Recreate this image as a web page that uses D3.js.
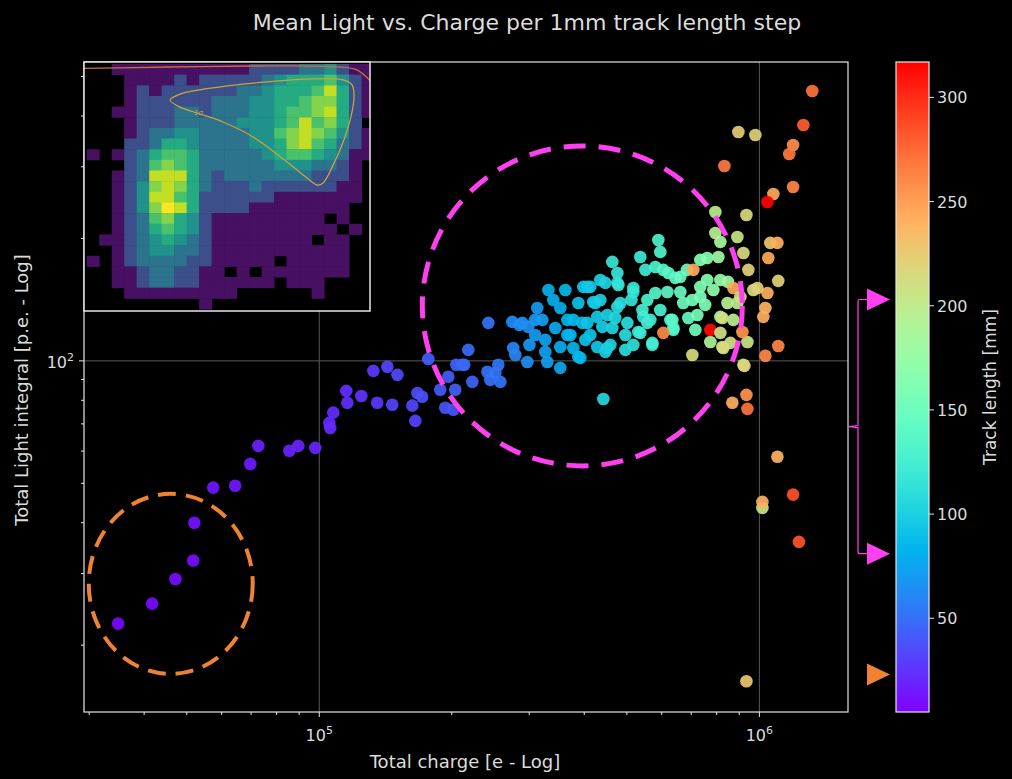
<!DOCTYPE html>
<html>
<head>
<meta charset="utf-8">
<script src="https://cdn.jsdelivr.net/npm/d3@7"></script>
<style>
  body { margin: 0; background: #000; }
  svg { display: block; font-family: "DejaVu Sans", sans-serif; }
</style>
</head>
<body>
<svg id="chart" width="1012" height="779"></svg>
<script>
// ---- data ----
const charge = [
  34900, 41700, 47100, 51700, 52000, 57400, 64400, 69700, 72700, 85500,
  89600, 97900, 105900, 105400, 107600, 115800, 115200, 124600, 132700, 135400,
  142800, 150500, 146500, 162700, 165300, 167100, 171300, 176900, 188300, 193300,
  201600, 196400, 203700, 211300, 218100, 222700, 242200, 241000, 244700, 255200,
  257900, 251200, 274500, 289300, 298500, 275900, 278900, 297000, 312900, 321200,
  326300, 326300, 329700, 352900, 343800, 352900, 352900, 366100, 377700, 391900,
  387800, 406500, 396000, 424000, 428200, 451400, 428200, 458600, 463300, 483300,
  501200, 517200, 530800, 571200, 517200, 544900, 637600, 627700, 442100,
  284800, 204800, 213500, 366100, 377700, 398100, 412800, 419300, 435100, 446700,
  463300, 475700, 475700, 439800, 387800, 451400, 475700, 406500, 478200, 536300,
  550800, 589500, 595500, 580300, 605000, 621200, 644200, 661300, 684800, 734100,
  761100, 794300, 815400, 807000, 891300, 919800, 944000, 969000, 815400, 848700,
  761100, 734100, 786100, 846400, 891300, 815400, 872700, 939300, 773700, 828200,
  859500, 704200, 919800, 637600, 634300, 689600, 722800, 671400, 704200, 734100,
  661300, 618000, 580300, 556500, 542300, 556500, 536300, 571200, 470400, 517200,
  512000, 446700, 331600, 300300, 309300, 412800, 496000, 595500, 715300, 753000,
  340200, 362300, 372000, 309300, 402300, 496000, 565300, 435100,
  605000, 707900, 872700, 915000, 773700,
  896000, 979200, 1259000, 1193000, 1169000, 832700, 1193000, 1076000, 1043000, 794300,
  934500, 1059000, 1099000, 1048000, 1104000, 1043000, 989700, 905400, 1032000, 1021000,
  823800, 815400, 823800, 924600, 1032000, 1104000, 868200, 934500, 939300, 1099000,
  1193000, 1016000, 1016000, 1230000, 934500, 1319000
];
const light = [
  22.6, 25.3, 29.1, 32.3, 40.0, 48.8, 49.3, 55.8, 61.8, 60.1,
  61.8, 61.1, 68.4, 70.4, 74.6, 78.9, 84.4, 82.0, 94.5, 78.9,
  96.7, 92.4, 78.0, 77.6, 71.2, 83.4, 81.6, 101.1, 84.9, 76.7,
  75.8, 91.4, 84.9, 97.8, 106.4, 88.8, 124.0, 94.0, 89.8, 97.8,
  88.8, 93.4, 124.7, 124.0, 121.2, 107.6, 103.4, 99.4, 134.9, 126.1,
  112.6, 105.2, 99.4, 134.9, 120.5, 108.2, 96.1, 126.1, 107.6, 101.7,
  138.8, 152.0, 124.0, 138.8, 128.3, 129.7, 108.2, 109.5, 120.5, 138.8,
  124.0, 109.5, 117.8, 109.5, 147.7, 128.3, 120.5, 126.1, 80.6,
  122.6, 97.8, 97.8, 115.8, 126.1, 152.0, 152.0, 139.6, 158.1, 155.5,
  175.1, 164.5, 155.5, 121.2, 102.3, 107.6, 135.7, 124.0, 153.7, 180.1,
  167.4, 198.3, 185.3, 170.2, 167.4, 164.5, 160.0, 160.9, 167.4, 177.1,
  179.1, 206.3, 196.1, 180.1, 201.7, 184.2, 167.4, 149.4, 158.1, 156.4,
  158.1, 152.0, 149.4, 138.8, 138.8, 128.3, 126.1, 111.3, 111.3, 107.6,
  110.7, 103.4, 97.8, 119.2, 126.1, 127.5, 129.7, 138.8, 141.2, 143.6,
  147.7, 147.7, 146.9, 141.2, 133.4, 124.0, 117.2, 110.7, 127.5, 151.1,
  141.2, 105.2, 149.4, 109.5, 115.8, 115.8, 115.8, 133.4, 119.2, 137.3,
  141.2, 149.4, 115.8, 126.1, 112.6, 106.4, 126.1, 141.2,
  117.2, 167.4, 151.1, 117.8, 119.2,
  365.3, 359.2, 380.1, 339.5, 322.6, 301.3, 267.6, 257.2, 245.8, 232.3,
  228.4, 195.0, 195.0, 179.1, 157.3, 146.9, 151.1, 143.6, 134.9, 128.3,
  127.5, 117.2, 108.2, 97.2, 102.9, 108.8, 78.9, 82.5, 76.2, 58.1,
  46.9, 43.5, 45.0, 35.9, 16.3, 460.7
];
const trackLength = [
  8, 9, 10, 11, 12, 14, 14, 16, 17, 18,
  19, 19, 21, 21, 22, 24, 24, 25, 27, 26,
  33, 34, 32, 33, 32, 35, 36, 42, 40, 38,
  39, 42, 43, 46, 48, 45, 52, 50, 50, 53,
  52, 52, 62, 63, 64, 60, 60, 63, 70, 72,
  74, 74, 72, 80, 78, 78, 76, 82, 84, 85,
  90, 95, 88, 95, 96, 100, 94, 100, 103, 110,
  110, 112, 116, 120, 115, 115, 128, 130, 105,
  63, 45, 47, 83, 86, 92, 95, 95, 100, 102,
  118, 118, 112, 98, 85, 100, 108, 92, 115, 120,
  122, 130, 132, 130, 135, 138, 140, 145, 150, 160,
  165, 195, 185, 180, 205, 215, 222, 215, 175, 180,
  165, 160, 170, 195, 200, 180, 200, 205, 190, 205,
  210, 215, 210, 135, 140, 145, 155, 148, 152, 158,
  145, 140, 135, 130, 125, 125, 120, 125, 105, 118,
  115, 98, 80, 68, 70, 92, 108, 128, 150, 160,
  80, 85, 84, 70, 90, 108, 122, 100,
  260, 245, 245, 255, 313,
  225, 220, 280, 258, 268, 268, 262, 245, 317, 198,
  215, 228, 240, 245, 222, 242, 222, 210, 240, 242,
  212, 210, 215, 218, 260, 262, 242, 255, 270, 240,
  285, 205, 242, 285, 228, 270
];

const xMajorTicks = [1e5, 1e6];
const xMinorTicks = [3e4, 4e4, 5e4, 6e4, 7e4, 8e4, 9e4, 2e5, 3e5, 4e5, 5e5, 6e5, 7e5, 8e5, 9e5];
const yMajorTicks = [100];
const yMinorTicks = [20, 30, 40, 50, 60, 70, 80, 90, 200, 300, 400, 500];
const colorbarTicks = [50, 100, 150, 200, 250, 300];

// 2D histogram shown in the inset (0 = empty bin, 1..9 = density level)
const insetHist = [
  "00111111111112222334211",
  "00011112122222345556421",
  "00012122222233455568521",
  "00012222223334455677521",
  "00112223323334456678521",
  "00012223333344456867520",
  "00012334433334467876421",
  "00022355433334457865321",
  "10123566533333456654311",
  "00023676533333344433210",
  "00123888532333333322210",
  "00124787532223222222110",
  "00124886522222211111110",
  "00124798522221111111100",
  "00123675421111111110100",
  "00123565421111111111010",
  "01123454321111111101100",
  "00123443321111111111100",
  "10123333221111101111100",
  "00112332211010111111100",
  "00112332211111101110000",
  "00011111111100000010000",
  "00000000010000000000000"
];
// contours in inset fractions [u, v]
const sigma1Contour = [
  [0.301, 0.153], [0.336, 0.129], [0.476, 0.100], [0.640, 0.080], [0.801, 0.068],
  [0.906, 0.072], [0.937, 0.092], [0.944, 0.133], [0.937, 0.201], [0.906, 0.321],
  [0.871, 0.414], [0.836, 0.486], [0.815, 0.494], [0.780, 0.466], [0.710, 0.402],
  [0.591, 0.301], [0.486, 0.241], [0.406, 0.209], [0.336, 0.181]
];
const sigma2Contour = [[0.0, 0.026], [0.3, 0.02], [0.6, 0.016], [0.85, 0.018], [0.95, 0.03], [1.0, 0.075]];

// highlight circles (centre in data units)
const circleCharge = [396000, 45970];
const circleLight = [136.5, 28.3];
// colorbar markers (track length)
const markerValues = [203, 81, 23];
const bracketMid = 142;

// ---- layout ----
const svg = d3.select("#chart");
const W = 1012, H = 779;
const plot = { left: 84, right: 848, top: 62, bottom: 712 };
const textColor = "#dcdcdc";
const magenta = "#ff3ff0";
const orange = "#f08233";

svg.append("rect").attr("width", W).attr("height", H).attr("fill", "#000");

const x = d3.scaleLog().domain([29200, 1.59e6]).range([plot.left, plot.right]);
const y = d3.scaleLog().domain([13.7, 543]).range([plot.bottom, plot.top]);
const cScale = d3.scaleLinear().domain([5, 317]).range([712, 62]);

// matplotlib "rainbow"
function rainbow(t) {
  t = Math.max(0, Math.min(1, t));
  const r = Math.min(1, Math.abs(2 * t - 0.5));
  const g = Math.sin(Math.PI * t);
  const b = Math.cos(Math.PI * t / 2);
  return d3.rgb(r * 255, g * 255, Math.max(0, b) * 255).formatHex();
}
const colorOf = v => rainbow((v - 5) / (317 - 5));

// title
svg.append("text")
  .attr("x", 527).attr("y", 30)
  .attr("text-anchor", "middle")
  .attr("fill", textColor)
  .style("font-size", "22px")
  .text("Mean Light vs. Charge per 1mm track length step");

// grid
const grid = svg.append("g").attr("stroke", "#5a5a5a").attr("stroke-width", 1);
grid.selectAll(".gx").data(xMajorTicks).join("line")
  .attr("x1", d => x(d)).attr("x2", d => x(d))
  .attr("y1", plot.top).attr("y2", plot.bottom);
grid.selectAll(".gy").data(yMajorTicks).join("line")
  .attr("x1", plot.left).attr("x2", plot.right)
  .attr("y1", d => y(d)).attr("y2", d => y(d));

// scatter points
const pts = d3.range(charge.length).map(i => ({ c: charge[i], l: light[i], t: trackLength[i] }));
svg.append("g").selectAll("circle").data(pts).join("circle")
  .attr("cx", d => x(d.c))
  .attr("cy", d => y(d.l))
  .attr("r", 6.3)
  .attr("fill", d => colorOf(d.t))
  .attr("fill-opacity", 0.92);

// dashed highlight circles
svg.append("ellipse")
  .attr("cx", x(circleCharge[0])).attr("cy", y(circleLight[0]))
  .attr("rx", 160).attr("ry", 160)
  .attr("fill", "none").attr("stroke", magenta)
  .attr("stroke-width", 5).attr("stroke-dasharray", "22,13");
svg.append("ellipse")
  .attr("cx", x(circleCharge[1])).attr("cy", y(circleLight[1]))
  .attr("rx", 82).attr("ry", 90)
  .attr("fill", "none").attr("stroke", orange)
  .attr("stroke-width", 4).attr("stroke-dasharray", "18,10");

// spines
svg.append("rect")
  .attr("x", plot.left).attr("y", plot.top)
  .attr("width", plot.right - plot.left).attr("height", plot.bottom - plot.top)
  .attr("fill", "none").attr("stroke", "#e6e6e6").attr("stroke-width", 1.2);

// ticks
const ticks = svg.append("g").attr("stroke", "#e6e6e6").attr("stroke-width", 1);
ticks.selectAll(".xM").data(xMajorTicks).join("line")
  .attr("x1", d => x(d)).attr("x2", d => x(d))
  .attr("y1", plot.bottom).attr("y2", plot.bottom + 5);
ticks.selectAll(".xm").data(xMinorTicks).join("line")
  .attr("x1", d => x(d)).attr("x2", d => x(d))
  .attr("y1", plot.bottom).attr("y2", plot.bottom + 3);
ticks.selectAll(".yM").data(yMajorTicks).join("line")
  .attr("x1", plot.left - 5).attr("x2", plot.left)
  .attr("y1", d => y(d)).attr("y2", d => y(d));
ticks.selectAll(".ym").data(yMinorTicks).join("line")
  .attr("x1", plot.left - 3).attr("x2", plot.left)
  .attr("y1", d => y(d)).attr("y2", d => y(d));

// tick labels (10^n)
function powLabel(sel, v) {
  const e = Math.round(Math.log10(v));
  sel.append("tspan").text("10");
  sel.append("tspan").attr("dy", -7).style("font-size", "11px").text(e);
}
xMajorTicks.forEach(v => {
  const t = svg.append("text")
    .attr("x", x(v)).attr("y", 741)
    .attr("text-anchor", "middle").attr("fill", textColor)
    .style("font-size", "16px");
  powLabel(t, v);
});
yMajorTicks.forEach(v => {
  const t = svg.append("text")
    .attr("x", plot.left - 10).attr("y", y(v) + 7)
    .attr("text-anchor", "end").attr("fill", textColor)
    .style("font-size", "16px");
  powLabel(t, v);
});

// axis labels
svg.append("text")
  .attr("x", 465).attr("y", 768)
  .attr("text-anchor", "middle").attr("fill", textColor)
  .style("font-size", "18px")
  .text("Total charge [e - Log]");
svg.append("text")
  .attr("transform", `translate(28,390) rotate(-90)`)
  .attr("text-anchor", "middle").attr("fill", textColor)
  .style("font-size", "18px")
  .text("Total Light integral [p.e. - Log]");

// ---- inset with 2D histogram ----
const inset = { left: 84, right: 370, top: 62, bottom: 311 };
const defs = svg.append("defs");
defs.append("clipPath").attr("id", "insetClip")
  .append("rect")
  .attr("x", inset.left).attr("y", inset.top)
  .attr("width", inset.right - inset.left).attr("height", inset.bottom - inset.top);

const ig = svg.append("g").attr("clip-path", "url(#insetClip)");
ig.append("rect")
  .attr("x", inset.left).attr("y", inset.top)
  .attr("width", inset.right - inset.left).attr("height", inset.bottom - inset.top)
  .attr("fill", "#000");

const hx = d3.scaleBand().domain(d3.range(23)).range([86.7, 374]).padding(0);
const hy = d3.scaleBand().domain(d3.range(23)).range([64, 309]).padding(0);
const cells = [];
insetHist.forEach((row, r) => row.split("").forEach((ch, c) => {
  const v = +ch;
  if (v > 0) cells.push({ r, c, v });
}));
ig.selectAll(".cell").data(cells).join("rect")
  .attr("x", d => hx(d.c)).attr("y", d => hy(d.r))
  .attr("width", hx.bandwidth() + 0.5).attr("height", hy.bandwidth() + 0.5)
  .attr("fill", d => d3.interpolateViridis(0.04 + 0.96 * Math.pow((d.v - 1) / 8, 0.75)));

const iu = d3.scaleLinear().domain([0, 1]).range([inset.left, inset.right]);
const iv = d3.scaleLinear().domain([0, 1]).range([inset.top, inset.bottom]);
ig.append("path")
  .attr("d", d3.line().x(d => iu(d[0])).y(d => iv(d[1])).curve(d3.curveCatmullRomClosed)(sigma1Contour))
  .attr("fill", "none").attr("stroke", "#c9a43a").attr("stroke-width", 1.3);
ig.append("path")
  .attr("d", d3.line().x(d => iu(d[0])).y(d => iv(d[1])).curve(d3.curveCatmullRom)(sigma2Contour))
  .attr("fill", "none").attr("stroke", "#c8703a").attr("stroke-width", 1.3);
ig.append("text")
  .attr("x", iu(0.385)).attr("y", iv(0.2) + 3)
  .attr("fill", "#c9a43a").style("font-size", "7px").style("font-style", "italic")
  .text("1σ");

svg.append("rect")
  .attr("x", inset.left).attr("y", inset.top)
  .attr("width", inset.right - inset.left).attr("height", inset.bottom - inset.top)
  .attr("fill", "none").attr("stroke", "#e6e6e6").attr("stroke-width", 1.5);

// ---- colorbar ----
const cb = { left: 896, right: 929 };
const grad = defs.append("linearGradient").attr("id", "cbGrad")
  .attr("x1", 0).attr("y1", 1).attr("x2", 0).attr("y2", 0);
d3.range(0, 1.0001, 0.05).forEach(t => {
  grad.append("stop").attr("offset", t).attr("stop-color", rainbow(t));
});
svg.append("rect")
  .attr("x", cb.left).attr("y", cScale(317))
  .attr("width", cb.right - cb.left).attr("height", cScale(5) - cScale(317))
  .attr("fill", "url(#cbGrad)")
  .attr("stroke", "#e6e6e6").attr("stroke-width", 1.2);

const cbAxis = svg.append("g");
cbAxis.selectAll("line").data(colorbarTicks).join("line")
  .attr("x1", cb.right).attr("x2", cb.right + 5)
  .attr("y1", d => cScale(d)).attr("y2", d => cScale(d))
  .attr("stroke", "#e6e6e6");
cbAxis.selectAll("text").data(colorbarTicks).join("text")
  .attr("x", cb.right + 8).attr("y", d => cScale(d) + 6)
  .attr("fill", textColor).style("font-size", "16px")
  .text(d => d);
svg.append("text")
  .attr("transform", `translate(996,${(cScale(5) + cScale(317)) / 2}) rotate(-90)`)
  .attr("text-anchor", "middle").attr("fill", textColor)
  .style("font-size", "17px")
  .text("Track length [mm]");

// markers next to colorbar
const markerColors = [magenta, magenta, orange];
svg.append("g").selectAll("path").data(markerValues).join("path")
  .attr("d", d => {
    const cy = cScale(d);
    return `M867,${cy - 11}L890,${cy}L867,${cy + 11}Z`;
  })
  .attr("fill", (d, i) => markerColors[i]);

// bracket linking the two magenta markers
const yA = cScale(markerValues[0]), yB = cScale(markerValues[1]), yM = cScale(bracketMid);
svg.append("path")
  .attr("d", `M867,${yA}L860,${yA}Q858,${yA} 858,${yA + 2}L858,${yM - 1}L849,${yM}L858,${yM + 1}L858,${yB - 2}Q858,${yB} 860,${yB}L867,${yB}`)
  .attr("fill", "none").attr("stroke", magenta).attr("stroke-width", 1.2);
</script>
</body>
</html>
